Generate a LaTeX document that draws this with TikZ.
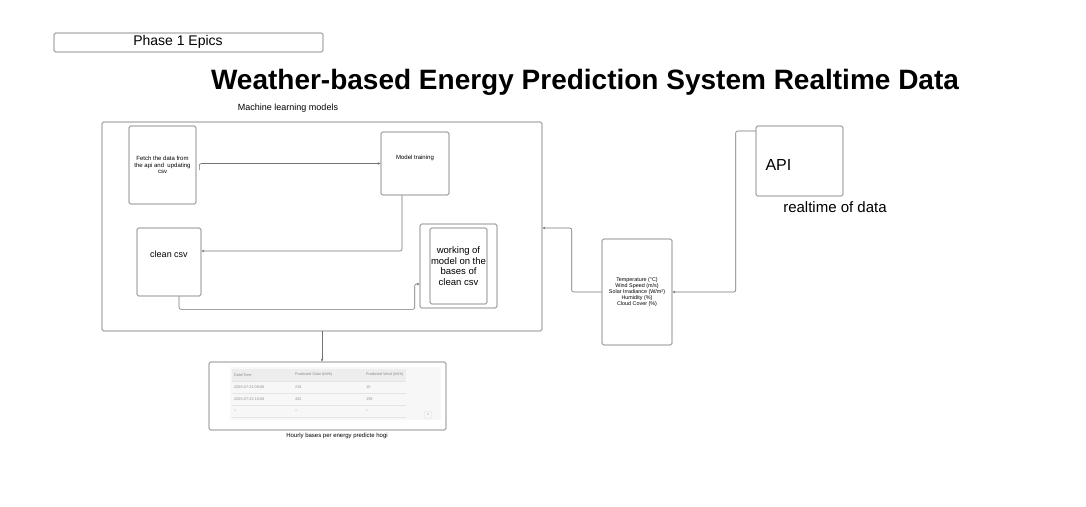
\documentclass[tikz,border=0pt]{standalone}
\usepackage{fontspec}
\setmainfont{Liberation Sans}
\usetikzlibrary{positioning,arrows.meta}

\tikzset{
  box/.style={draw=black!60, rounded corners=1.5pt, line width=0.6pt, inner sep=1pt, align=center},
  link/.style={draw=black!55, line width=0.6pt, rounded corners=2pt, -{Stealth[length=3pt,width=2.5pt]}},
  tiny/.style={font=\fontsize{6}{6.6}\selectfont},
  small/.style={font=\fontsize{9}{10.5}\selectfont},
  cell/.style={font=\fontsize{3.8}{4}\selectfont, text=black!45, anchor=west, inner sep=0pt}
}

\begin{document}
\begin{tikzpicture}[x=1pt,y=-1pt]
\useasboundingbox (0,0) rectangle (1086,506);
%header
\node[box, minimum width=269, minimum height=19] (phase) at (188.5,42.5) {};
\node[font=\fontsize{14}{15}\selectfont] (phasetxt) at (178,41.5) {Phase 1 Epics};
\node[font=\fontsize{28}{30}\selectfont\bfseries] (title) at (585,82) {Weather-based Energy Prediction System Realtime Data};

%machine learning block
\node[small] (mltitle) at (288,108) {Machine learning models};
\node[box, minimum width=440, minimum height=209] (ml) at (322,226.5) {};
\node[box, minimum width=67, minimum height=78, tiny] (fetch) at (162.5,165)
  {Fetch the data from\\the api and \ updating\\csv};
\node[box, minimum width=68, minimum height=63] (train) at (415,163.5) {};
\node[tiny] (traintxt) at (415,158) {Model training};
\node[box, minimum width=64, minimum height=68] (csv) at (169,262) {};
\node[small] (csvtxt) at (169,254) {clean csv};
\node[box, minimum width=77, minimum height=84] (work) at (458.5,266) {};
\node[box, minimum width=55, minimum height=76, font=\fontsize{9.5}{10.5}\selectfont] (workin) at (458.5,266)
  {working of\\model on the\\bases of\\clean csv};

\draw[link] ([xshift=3pt,yshift=-5pt]fetch.east) |- (train.west);
\draw[link] ([xshift=-13pt]train.south) |- ([yshift=11pt]csv.east);
\draw[link] ([xshift=10pt]csv.south) -- ++(0,13) -| ([xshift=-5pt,yshift=-18pt]work.west) -- ([yshift=-18pt]work.west);

%output table
\node[box, minimum width=237, minimum height=68] (tbl) at (327.5,396) {};
\fill[black!3] (230,367) rectangle (441,420);
\fill[black!7] (232,369) rectangle (406,381);
\foreach \y in {381,393,405,417} \draw[black!10, line width=0.3pt] (232,\y) -- (406,\y);
\node[cell] (h1) at (234,375) {Date/Time};
\node[cell] (h2) at (295,375) {Predicted Solar (kWh)};
\node[cell] (h3) at (366,375) {Predicted Wind (kWh)};
\node[cell] (r11) at (234,387) {2025-07-22 09:00};
\node[cell] (r12) at (295,387) {215};
\node[cell] (r13) at (366,387) {10};
\node[cell] (r21) at (234,399) {2025-07-22 10:00};
\node[cell] (r22) at (295,399) {452};
\node[cell] (r23) at (366,399) {159};
\node[cell] (r31) at (234,411) {--};
\node[cell] (r32) at (295,411) {--};
\node[cell] (r33) at (366,411) {--};
\node[draw=black!12, rounded corners=1pt, minimum size=7pt, inner sep=0pt, font=\fontsize{4}{4}\selectfont, text=black!50] (up) at (428,415) {\^{}};
\node[tiny] (tblcap) at (337,436) {Hourly bases per energy predicte hogi};
\draw[link] (ml.south) -- (ml.south |- tbl.north);

%data inputs
\node[box, minimum width=70, minimum height=106, font=\fontsize{5.4}{6}\selectfont] (sensor) at (637,292)
  {Temperature (°C)\\Wind Speed (m/s)\\Solar Irradiance (W/m²)\\Humidity (\%)\\Cloud Cover (\%)};
\node[box, minimum width=87, minimum height=70] (api) at (799.5,161) {};
\node[font=\fontsize{16}{18}\selectfont, anchor=west] (apitxt) at (762,165) {API};
\node[font=\fontsize{15}{17}\selectfont] (apicap) at (835,207) {realtime of data};

\draw[link] (sensor.west) -- ++(-30,0) |- ([yshift=-1.5pt]ml.east);
\draw[link] ([yshift=30pt]api.west) -- ++(-20,0) |- (sensor.east);
\end{tikzpicture}
\end{document}
